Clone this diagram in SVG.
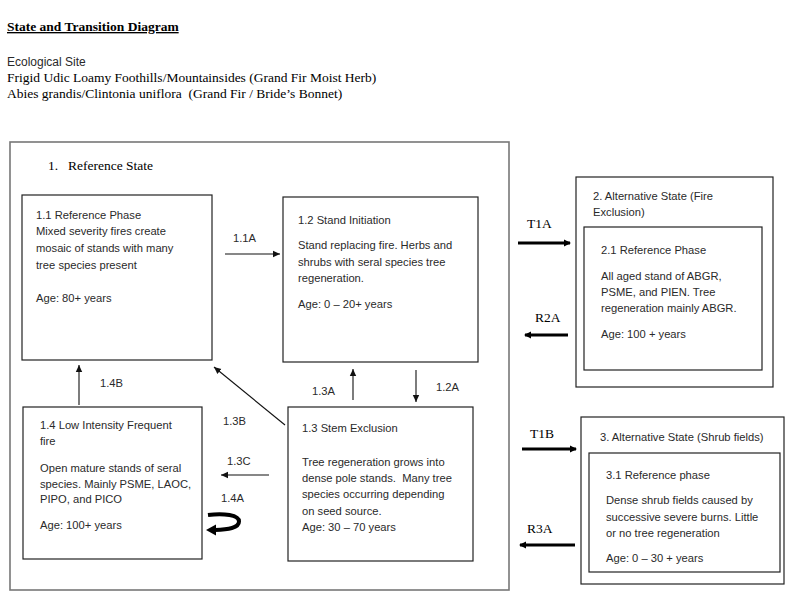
<svg xmlns="http://www.w3.org/2000/svg" width="800" height="601" viewBox="0 0 800 601">
<style>
.serif{font-family:"Liberation Serif","Times New Roman",serif;font-size:13.5px;fill:#000}
.sans{font-family:"Liberation Sans",Arial,sans-serif;font-size:11.2px;fill:#2a2a2a}
.box{fill:#fff;stroke:#222;stroke-width:1.2}
.outer{fill:none;stroke:#777;stroke-width:1.6}
.thin{stroke:#111;stroke-width:1.1;fill:none;marker-end:url(#ah)}
.thick{stroke:#000;stroke-width:3;fill:none;marker-end:url(#ahT)}
</style>
<defs>
<marker id="ah" markerUnits="userSpaceOnUse" markerWidth="8" markerHeight="8" refX="7" refY="4" orient="auto"><path d="M0,0.8 L7,4 L0,7.2 Z" fill="#111"/></marker>
<marker id="ahT" markerUnits="userSpaceOnUse" markerWidth="8" markerHeight="8" refX="6" refY="4" orient="auto"><path d="M0,0.5 L7,4 L0,7.5 Z" fill="#000"/></marker>
</defs>
<rect width="800" height="601" fill="#fff"/>
<g id="header">
<text class="serif" x="7" y="31" font-weight="bold" text-decoration="underline">State and Transition Diagram</text>
<text class="sans" x="7" y="66" style="font-size:12px">Ecological Site</text>
<text class="serif" x="7" y="82">Frigid Udic Loamy Foothills/Mountainsides (Grand Fir Moist Herb)</text>
<text class="serif" x="7" y="98" xml:space="preserve">Abies grandis/Clintonia uniflora  (Grand Fir / Bride’s Bonnet)</text>
</g>
<g id="state1">
<rect class="outer" x="10" y="142" width="499" height="448"/>
<text class="serif" x="48" y="170">1.</text>
<text class="serif" x="68" y="170">Reference State</text>
</g>
<g id="phase1_1">
<rect class="box" x="22" y="195" width="190" height="165"/>
<text class="sans" x="36" y="219">1.1 Reference Phase</text>
<text class="sans" x="36" y="235">Mixed severity fires create</text>
<text class="sans" x="36" y="252">mosaic of stands with many</text>
<text class="sans" x="36" y="269">tree species present</text>
<text class="sans" x="36" y="302">Age: 80+ years</text>
</g>
<g id="phase1_2">
<rect class="box" x="283" y="197" width="195" height="165"/>
<text class="sans" x="298" y="224">1.2 Stand Initiation</text>
<text class="sans" x="298" y="249">Stand replacing fire. Herbs and</text>
<text class="sans" x="298" y="266">shrubs with seral species tree</text>
<text class="sans" x="298" y="282">regeneration.</text>
<text class="sans" x="298" y="308">Age: 0 – 20+ years</text>
</g>
<g id="phase1_3">
<rect class="box" x="288" y="407" width="185" height="154"/>
<text class="sans" x="302" y="432">1.3 Stem Exclusion</text>
<text class="sans" x="302" y="466">Tree regeneration grows into</text>
<text class="sans" x="302" y="482" xml:space="preserve">dense pole stands.  Many tree</text>
<text class="sans" x="302" y="498">species occurring depending</text>
<text class="sans" x="302" y="515">on seed source.</text>
<text class="sans" x="302" y="531">Age: 30 – 70 years</text>
</g>
<g id="phase1_4">
<rect class="box" x="23" y="407" width="179" height="152"/>
<text class="sans" x="40" y="429">1.4 Low Intensity Frequent</text>
<text class="sans" x="40" y="445">fire</text>
<text class="sans" x="40" y="472">Open mature stands of seral</text>
<text class="sans" x="40" y="488">species. Mainly PSME, LAOC,</text>
<text class="sans" x="40" y="503">PIPO, and PICO</text>
<text class="sans" x="40" y="529">Age: 100+ years</text>
</g>
<g id="state2">
<rect class="box" x="576" y="177" width="197" height="210"/>
<text class="sans" x="593" y="200">2. Alternative State (Fire</text>
<text class="sans" x="593" y="216">Exclusion)</text>
</g>
<g id="phase2_1">
<rect class="box" x="584" y="227" width="178" height="143"/>
<text class="sans" x="601" y="254">2.1 Reference Phase</text>
<text class="sans" x="601" y="280">All aged stand of ABGR,</text>
<text class="sans" x="601" y="296">PSME, and PIEN. Tree</text>
<text class="sans" x="601" y="312">regeneration mainly ABGR.</text>
<text class="sans" x="601" y="338">Age: 100 + years</text>
</g>
<g id="state3">
<rect class="box" x="581" y="417" width="203" height="167"/>
<text class="sans" x="600" y="441">3. Alternative State (Shrub fields)</text>
</g>
<g id="phase3_1">
<rect class="box" x="589" y="453" width="191" height="119"/>
<text class="sans" x="606" y="479">3.1 Reference phase</text>
<text class="sans" x="606" y="504">Dense shrub fields caused by</text>
<text class="sans" x="606" y="521">successive severe burns. Little</text>
<text class="sans" x="606" y="537">or no tree regeneration</text>
<text class="sans" x="606" y="562">Age: 0 – 30 + years</text>
</g>
<g id="connectors">
<line class="thin" x1="225" y1="254" x2="280" y2="254"/>
<text class="sans" x="233" y="242">1.1A</text>
<line class="thin" x1="353" y1="400" x2="353" y2="369"/>
<text class="sans" x="312" y="395">1.3A</text>
<line class="thin" x1="416" y1="370" x2="416" y2="402"/>
<text class="sans" x="436" y="391">1.2A</text>
<line class="thin" x1="285" y1="425" x2="214" y2="367"/>
<text class="sans" x="223" y="425">1.3B</text>
<line class="thin" x1="79" y1="405" x2="79" y2="365"/>
<text class="sans" x="100" y="387">1.4B</text>
<line class="thin" x1="269" y1="475" x2="221" y2="475"/>
<text class="sans" x="227" y="465">1.3C</text>
<text class="sans" x="221" y="502">1.4A</text>
<path d="M208,515 C224,513 239,515 239,521.5 C239,528 228,529.5 215,530" stroke="#000" stroke-width="4" fill="none"/>
<path d="M206,530 L216,524.5 L216,535.5 Z" fill="#000"/>
<line class="thick" x1="518" y1="243" x2="570" y2="243"/>
<text class="serif" x="527" y="228">T1A</text>
<line class="thick" x1="568" y1="335" x2="525" y2="335"/>
<text class="serif" x="535" y="322">R2A</text>
<line class="thick" x1="522" y1="449" x2="576" y2="449"/>
<text class="serif" x="530" y="438">T1B</text>
<line class="thick" x1="575" y1="545" x2="520" y2="545"/>
<text class="serif" x="527" y="533">R3A</text>
</g>
</svg>
